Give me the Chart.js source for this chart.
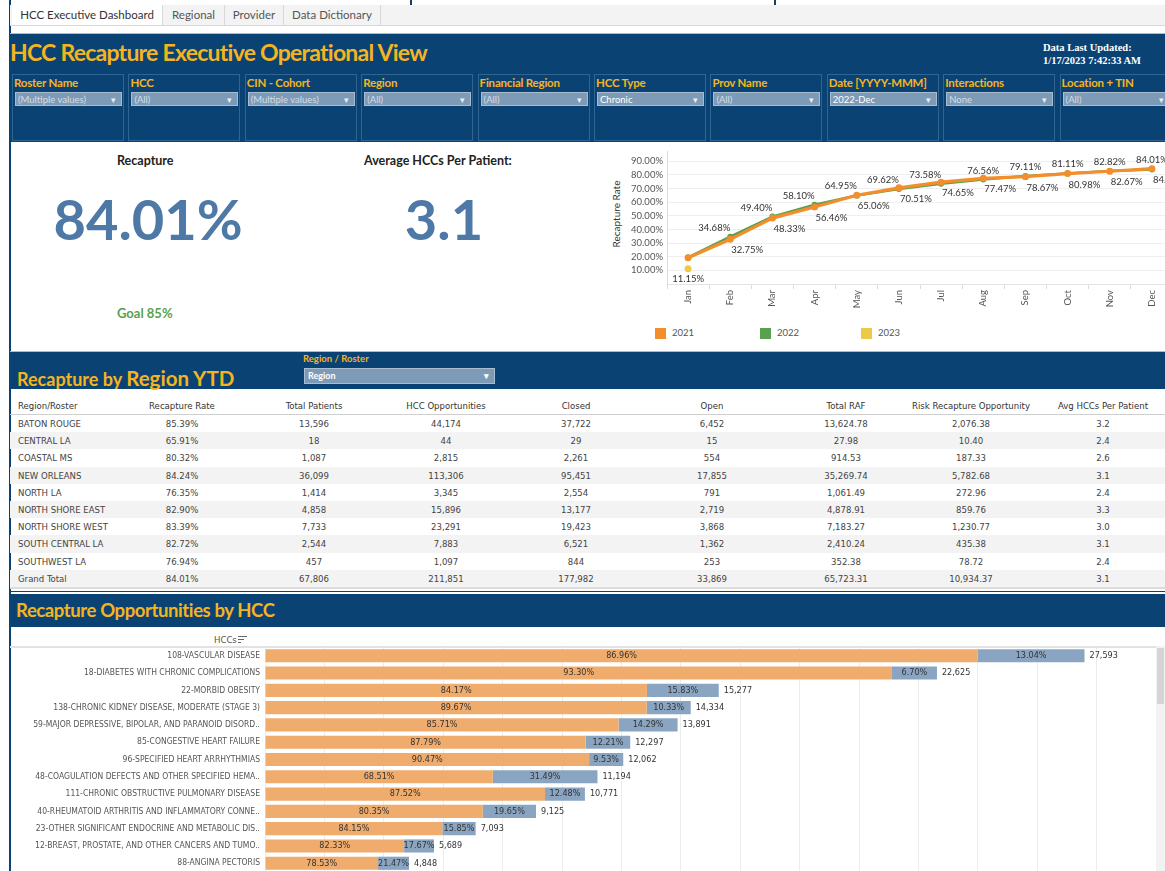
<!DOCTYPE html>
<html>
<head>
<meta charset="utf-8">
<script src="https://cdn.jsdelivr.net/npm/chart.js@4"></script>
<style>
body { margin:0; width:1165px; height:871px; overflow:hidden; background:#fff; position:relative; font-family:Lato,'Noto Sans',sans-serif; }
.abs { position:absolute; }
.narrow { font-family:'Liberation Sans Narrow','DejaVu Sans Condensed',Lato,sans-serif; }
.tabs { left:10px; top:5px; width:1155px; height:20px; background:#f3f3f3; border-bottom:1px solid #d8d8d8; }
.tab { position:absolute; top:0; height:20px; line-height:20px; font-size:11.5px; color:#555; text-align:center; border-right:1px solid #d8d8d8; }
.band { background:#0a4373; left:10px; width:1155px; }
.gold { color:#f5b41f; font-weight:700; }
.filt { position:absolute; top:74px; width:110px; height:65px; border:1px solid #2f6493; background:#0a4373; }
.filt .lbl { position:absolute; left:1px; top:1px; font-size:11.5px; font-weight:700; color:#f5b41f; white-space:nowrap; letter-spacing:-0.2px; }
.filt .dd { position:absolute; left:2px; top:17px; height:14px; background:#7d9bb7; border:1px solid #a9bdd0; font-size:9.5px; line-height:14px; color:#d3dde7; padding-left:2px; box-sizing:border-box; width:107px; }
.filt .dd.sel { color:#fff; }
.filt .dd:after { content:'\25BE'; position:absolute; right:5px; top:0; font-size:9px; color:#e8eef4; }
table { border-collapse:collapse; table-layout:fixed; }
td { height:17.2px; padding:0; font-size:9.5px; color:#444; text-align:center; white-space:nowrap; }
tr.hd td { height:17px; border-bottom:1px solid #cfcfcf; color:#333; }
tr.odd td { background:#f3f3f3; }
td.first { text-align:left; padding-left:8px; }
</style>
</head>
<body>
<div class="abs" style="left:9px;top:0;width:2px;height:871px;background:#0a4373"></div>
<div class="abs" style="left:410px;top:-3px;width:362px;height:8px;border:2px solid #1e3d5e;border-top:none;background:#fff"></div>
<div class="abs" style="left:778px;top:0;width:390px;height:6px;border-bottom:1px solid #1e3d5e"></div>

<div class="abs tabs">
  <div class="tab" style="left:2px;width:150px;background:#fff;color:#333">HCC Executive Dashboard</div>
  <div class="tab" style="left:153px;width:61px">Regional</div>
  <div class="tab" style="left:215px;width:58px">Provider</div>
  <div class="tab" style="left:274px;width:96px">Data Dictionary</div>
</div>

<div class="abs band" style="top:33px;height:108px;border-top:1px solid #a8bdd2"></div>
<div class="abs gold" style="left:10px;top:38px;font-size:23px;letter-spacing:-0.75px">HCC Recapture Executive Operational View</div>
<div class="abs" style="left:1043px;top:41px;font-family:'Liberation Serif','DejaVu Serif',serif;font-weight:700;font-size:10.5px;line-height:13px;color:#fff">Data Last Updated:<br>1/17/2023 7:42:33 AM</div>
<div id="filters"></div>

<div class="abs" style="left:117px;top:153px;font-size:12.5px;font-weight:700;color:#222">Recapture</div>
<div class="abs" style="left:40px;top:185px;width:216px;text-align:center;font-size:56px;font-weight:700;color:#4e79a7">84.01%</div>
<div class="abs" style="left:117px;top:305px;font-size:13px;font-weight:700;color:#59a14f">Goal 85%</div>
<div class="abs" style="left:364px;top:153px;font-size:12.5px;font-weight:700;color:#222">Average HCCs Per Patient:</div>
<div class="abs" style="left:344px;top:185px;width:200px;text-align:center;font-size:56px;font-weight:700;color:#4e79a7">3.1</div>

<div class="abs" style="left:576px;top:208px;width:80px;text-align:center;font-size:10px;color:#333;transform:rotate(-90deg)">Recapture Rate</div>
<div class="abs" style="left:600px;top:142px;width:577px;height:168px"><canvas id="lineChart"></canvas></div>
<div id="legend"></div>

<div class="abs band" style="top:351px;height:37px;border-top:1px solid #a8bdd2"></div>
<div class="abs gold" style="left:17px;top:366px;white-space:nowrap"><span style="font-size:18px">Recapture by </span><span style="font-size:20.5px">Region YTD</span></div>
<div class="abs gold" style="left:303px;top:353px;font-size:9.5px">Region / Roster</div>
<div class="abs" style="left:304px;top:368px;width:191px;height:16px;background:#7d9bb7;border:1px solid #a9bdd0;box-sizing:border-box;font-size:9px;line-height:14px;font-weight:700;color:#fff;padding-left:3px">Region<span style="position:absolute;right:5px">&#9662;</span></div>

<table class="abs narrow" id="regionTable" style="left:10px;top:397px;width:1163px"></table>
<div class="abs" style="left:10px;top:587px;width:1155px;height:2px;background:#dcdcdc"></div>
<div class="abs" style="left:10px;top:591px;width:1155px;height:1px;background:#0a4373"></div>

<div class="abs band" style="top:594px;height:33px"></div>
<div class="abs gold" style="left:16px;top:599px;font-size:18.5px;letter-spacing:-0.4px">Recapture Opportunities by HCC</div>

<div class="abs narrow" style="left:214px;top:634px;font-size:9.5px;color:#555">HCCs</div>
<div class="abs" style="left:238px;top:636px;width:9px;height:1px;background:#666"></div>
<div class="abs" style="left:238px;top:639px;width:6px;height:1px;background:#666"></div>
<div class="abs" style="left:238px;top:642px;width:3px;height:1px;background:#666"></div>
<div class="abs" style="left:10px;top:646px;width:1146px;height:2px;background:#e2e2e2"></div>
<div class="abs" style="left:10px;top:645px;width:1146px;height:229px"><canvas id="hccChart"></canvas></div>
<div class="abs" style="left:1156px;top:646px;width:9px;height:225px;background:#f2f2f2"></div>
<div class="abs" style="left:1157px;top:648px;width:7px;height:56px;background:#d5d5d5"></div>

<script>
// line chart data (percent)
const months = ['Jan', 'Feb', 'Mar', 'Apr', 'May', 'Jun', 'Jul', 'Aug', 'Sep', 'Oct', 'Nov', 'Dec'];
const rate2021 = [19.3, 32.75, 48.33, 56.46, 65.06, 70.51, 74.65, 77.47, 78.67, 80.98, 82.67, 84.54];
const rate2022 = [19.5, 34.68, 49.40, 58.10, 64.95, 69.62, 73.58, 76.56, 79.11, 81.11, 82.82, 84.01];
const rate2023 = [11.15, null, null, null, null, null, null, null, null, null, null, null];
const rateTicks = [10, 20, 30, 40, 50, 60, 70, 80, 90];

// filters
const filterNames = ['Roster Name', 'HCC', 'CIN - Cohort', 'Region', 'Financial Region', 'HCC Type', 'Prov Name', 'Date [YYYY-MMM]', 'Interactions', 'Location + TIN'];
const filterValues = ['(Multiple values)', '(All)', '(Multiple values)', '(All)', '(All)', 'Chronic', '(All)', '2022-Dec', 'None', '(All)'];

// region table
const tableHeads = ['Region/Roster', 'Recapture Rate', 'Total Patients', 'HCC Opportunities', 'Closed', 'Open', 'Total RAF', 'Risk Recapture Opportunity', 'Avg HCCs Per Patient'];
const regions = ['BATON ROUGE', 'CENTRAL LA', 'COASTAL MS', 'NEW ORLEANS', 'NORTH LA', 'NORTH SHORE EAST', 'NORTH SHORE WEST', 'SOUTH CENTRAL LA', 'SOUTHWEST LA', 'Grand Total'];
const recaptureRate = ['85.39%', '65.91%', '80.32%', '84.24%', '76.35%', '82.90%', '83.39%', '82.72%', '76.94%', '84.01%'];
const totalPatients = ['13,596', '18', '1,087', '36,099', '1,414', '4,858', '7,733', '2,544', '457', '67,806'];
const hccOpps = ['44,174', '44', '2,815', '113,306', '3,345', '15,896', '23,291', '7,883', '1,097', '211,851'];
const closedCounts = ['37,722', '29', '2,261', '95,451', '2,554', '13,177', '19,423', '6,521', '844', '177,982'];
const openCounts = ['6,452', '15', '554', '17,855', '791', '2,719', '3,868', '1,362', '253', '33,869'];
const totalRaf = ['13,624.78', '27.98', '914.53', '35,269.74', '1,061.49', '4,878.91', '7,183.27', '2,410.24', '352.38', '65,723.31'];
const riskOpp = ['2,076.38', '10.40', '187.33', '5,782.68', '272.96', '859.76', '1,230.77', '435.38', '78.72', '10,934.37'];
const avgHccs = ['3.2', '2.4', '2.6', '3.1', '2.4', '3.3', '3.0', '3.1', '2.4', '3.1'];

// HCC bars
const hccNames = ['108-VASCULAR DISEASE', '18-DIABETES WITH CHRONIC COMPLICATIONS', '22-MORBID OBESITY', '138-CHRONIC KIDNEY DISEASE, MODERATE (STAGE 3)', '59-MAJOR DEPRESSIVE, BIPOLAR, AND PARANOID DISORD..', '85-CONGESTIVE HEART FAILURE', '96-SPECIFIED HEART ARRHYTHMIAS', '48-COAGULATION DEFECTS AND OTHER SPECIFIED HEMA..', '111-CHRONIC OBSTRUCTIVE PULMONARY DISEASE', '40-RHEUMATOID ARTHRITIS AND INFLAMMATORY CONNE..', '23-OTHER SIGNIFICANT ENDOCRINE AND METABOLIC DIS..', '12-BREAST, PROSTATE, AND OTHER CANCERS AND TUMO..', '88-ANGINA PECTORIS'];
const hccClosed = [23995, 21109, 12859, 12853, 11906, 10796, 10912, 7669, 9427, 7332, 5969, 4684, 3807];
const hccOpen = [3598, 1516, 2418, 1481, 1985, 1501, 1150, 3525, 1344, 1793, 1124, 1005, 1041];

const narrowFont = "'Liberation Sans Narrow','DejaVu Sans Condensed',Lato,sans-serif";

// filter boxes
const filtersEl = document.getElementById('filters');
filterNames.forEach((name, i) => {
  const box = document.createElement('div');
  box.className = 'filt';
  box.style.left = (12 + i * 116.4) + 'px';
  const sel = filterValues[i] === 'Chronic' || filterValues[i] === '2022-Dec';
  box.innerHTML = '<div class="lbl">' + name + '</div><div class="dd' + (sel ? ' sel' : '') + '">' + filterValues[i] + '</div>';
  filtersEl.appendChild(box);
});

// legend
const legendEl = document.getElementById('legend');
[['2021', '#f28e2b', 655], ['2022', '#59a14f', 760], ['2023', '#edc948', 861]].forEach(l => {
  legendEl.innerHTML += '<div class="abs" style="left:' + l[2] + 'px;top:328px;width:11px;height:11px;background:' + l[1] + '"></div>' +
    '<div class="abs" style="left:' + (l[2] + 17) + 'px;top:327px;font-size:9.5px;color:#555">' + l[0] + '</div>';
});

// table
const widths = [107, 130, 134, 130, 130, 142, 126, 124, 140];
let html = '<colgroup>' + widths.map(w => '<col style="width:' + w + 'px">').join('') + '</colgroup>';
html += '<tr class="hd">' + tableHeads.map((h, i) => '<td' + (i === 0 ? ' class="first"' : '') + '>' + h + '</td>').join('') + '</tr>';
regions.forEach((r, i) => {
  const vals = [r, recaptureRate[i], totalPatients[i], hccOpps[i], closedCounts[i], openCounts[i], totalRaf[i], riskOpp[i], avgHccs[i]];
  html += '<tr class="' + (i % 2 ? 'odd' : '') + '">' + vals.map((v, j) => '<td' + (j === 0 ? ' class="first"' : '') + '>' + v + '</td>').join('') + '</tr>';
});
document.getElementById('regionTable').innerHTML = html;

// point labels on the line chart
const lineLabels = {
  id: 'lineLabels',
  afterDatasetsDraw(chart) {
    const ctx = chart.ctx;
    ctx.save();
    ctx.font = '9.5px Lato';
    ctx.fillStyle = '#333';
    ctx.textBaseline = 'middle';
    chart.data.datasets.forEach((ds, di) => {
      const meta = chart.getDatasetMeta(di);
      meta.data.forEach((pt, i) => {
        const v = ds.data[i];
        if (v == null) return;
        const txt = v.toFixed(2) + '%';
        if (ds.label === '2023') {
          ctx.textAlign = 'center';
          ctx.fillText(txt, pt.x, pt.y + 10);
          return;
        }
        if (i === 0) return;
        if (ds.label === '2022') {
          ctx.textAlign = i < 7 ? 'right' : 'center';
          ctx.fillText(txt, pt.x, pt.y - 9);
        } else {
          ctx.textAlign = 'left';
          ctx.fillText(txt, pt.x + 1, pt.y + 11);
        }
      });
    });
    ctx.restore();
  }
};

new Chart(document.getElementById('lineChart'), {
  type: 'line',
  data: {
    labels: months,
    datasets: [
      { label: '2021', data: rate2021, borderColor: '#f28e2b', backgroundColor: '#f28e2b', borderWidth: 3.2, pointRadius: 3.5, pointBorderWidth: 0 },
      { label: '2022', data: rate2022, borderColor: '#59a14f', backgroundColor: '#59a14f', borderWidth: 2.5, pointRadius: 3, pointBorderWidth: 0 },
      { label: '2023', data: rate2023, borderColor: '#edc948', backgroundColor: '#edc948', borderWidth: 2, pointRadius: 3.5, pointBorderWidth: 0 }
    ]
  },
  options: {
    responsive: true,
    maintainAspectRatio: false,
    animation: false,
    layout: { padding: { top: 2, left: 0, right: 0, bottom: 0 } },
    plugins: { legend: { display: false }, tooltip: { enabled: false } },
    scales: {
      x: {
        offset: true,
        afterFit: s => { s.height = 26; },
        grid: { offset: true, drawOnChartArea: false, tickLength: 5, color: '#dcdcdc' },
        border: { color: '#e4e4e4' },
        ticks: { minRotation: 90, maxRotation: 90, padding: 1, color: '#555', font: { family: 'Lato', size: 9.5 } }
      },
      y: {
        min: 0,
        max: 97,
        afterFit: s => { s.width = 67; },
        afterBuildTicks: s => { s.ticks = rateTicks.map(v => ({ value: v })); },
        grid: { color: '#efefef', drawTicks: false },
        border: { color: '#dcdcdc' },
        ticks: { padding: 4, color: '#555', font: { family: 'Lato', size: 9.5 }, callback: v => v.toFixed(2) + '%' }
      }
    }
  },
  plugins: [lineLabels]
});

// labels inside / after the HCC bars
const barLabels = {
  id: 'barLabels',
  afterDatasetsDraw(chart) {
    const ctx = chart.ctx;
    const closedMeta = chart.getDatasetMeta(0);
    const openMeta = chart.getDatasetMeta(1);
    ctx.save();
    ctx.font = '9px ' + narrowFont;
    ctx.fillStyle = '#333';
    ctx.textBaseline = 'middle';
    hccNames.forEach((n, i) => {
      const total = hccClosed[i] + hccOpen[i];
      const c = closedMeta.data[i], o = openMeta.data[i];
      ctx.textAlign = 'center';
      ctx.fillText((hccClosed[i] / total * 100).toFixed(2) + '%', (c.base + c.x) / 2, c.y);
      ctx.fillText((hccOpen[i] / total * 100).toFixed(2) + '%', (o.base + o.x) / 2, o.y);
      ctx.textAlign = 'left';
      ctx.fillText(total.toLocaleString('en-US'), o.x + 5, o.y);
    });
    ctx.restore();
  }
};

new Chart(document.getElementById('hccChart'), {
  type: 'bar',
  data: {
    labels: hccNames,
    datasets: [
      { label: 'Closed', data: hccClosed, backgroundColor: '#efac6c' },
      { label: 'Open', data: hccOpen, backgroundColor: '#8aa5c2' }
    ]
  },
  options: {
    indexAxis: 'y',
    responsive: true,
    maintainAspectRatio: false,
    animation: false,
    layout: { padding: 0 },
    categoryPercentage: 1,
    barPercentage: 0.76,
    plugins: { legend: { display: false }, tooltip: { enabled: false } },
    scales: {
      x: {
        stacked: true,
        min: 0,
        max: 30000,
        afterFit: s => { s.height = 0; },
        ticks: { display: false, stepSize: 2000 },
        grid: { color: '#ececec', drawTicks: false },
        border: { display: false }
      },
      y: {
        stacked: true,
        afterFit: s => { s.width = 255; },
        grid: { display: false },
        border: { display: false },
        ticks: { padding: -3, autoSkip: false, color: '#555', font: { family: narrowFont, size: 8.5 } }
      }
    }
  },
  plugins: [barLabels]
});
</script>
</body>
</html>
